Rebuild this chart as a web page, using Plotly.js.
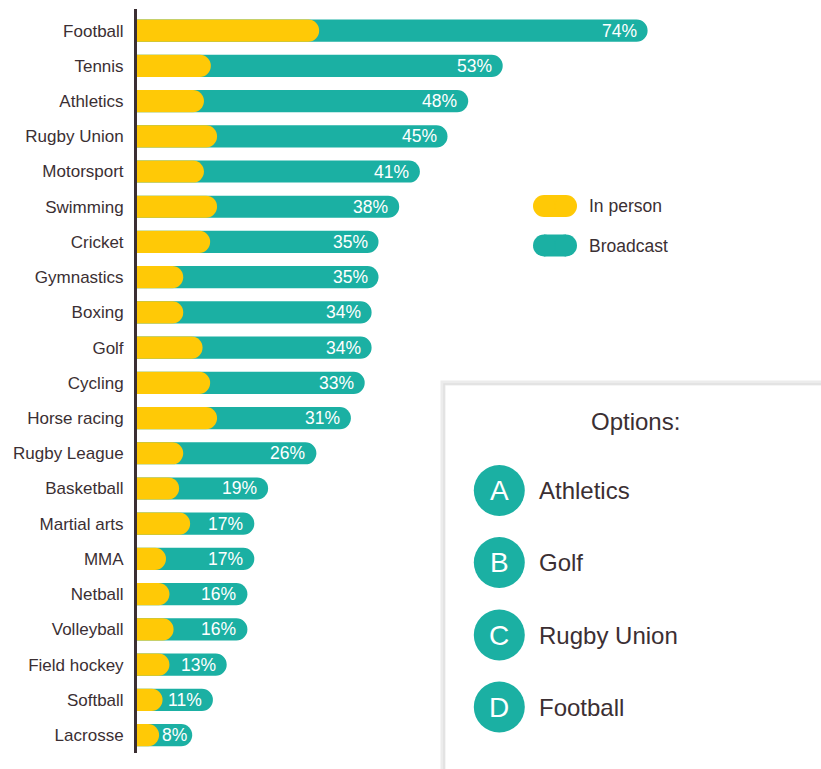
<!DOCTYPE html>
<html>
<head>
<meta charset="utf-8">
<script src="https://cdn.plot.ly/plotly-3.0.1.min.js"></script>
<style>html,body{margin:0;padding:0;background:#fff;}#chart{width:821px;height:769px;}</style>
</head>
<body>
<div id="chart"></div>
<script>
const categories = ["Football","Tennis","Athletics","Rugby Union","Motorsport","Swimming","Cricket","Gymnastics","Boxing","Golf","Cycling","Horse racing","Rugby League","Basketball","Martial arts","MMA","Netball","Volleyball","Field hockey","Softball","Lacrosse"];
const broadcastTotal = [74,53,48,45,41,38,35,35,34,34,33,31,26,19,17,17,16,16,13,11,8];
const inPerson = [26.4,10.7,9.7,11.6,9.7,11.6,10.6,6.7,6.7,9.5,10.6,11.6,6.7,6.1,7.7,4.2,4.7,5.3,4.7,3.7,3.2];
const valueLabels = ["74%","53%","48%","45%","41%","38%","35%","35%","34%","34%","33%","31%","26%","19%","17%","17%","16%","16%","13%","11%","8%"];
const legendNames = ["In person","Broadcast"];
const optionLetters = ["A","B","C","D"];
const optionNames = ["Athletics","Golf","Rugby Union","Football"];
const optionsTitle = "Options:";

const YELLOW = "#FFC906", TEAL = "#1BB0A3", DARK = "#3b2f33";
const FONT = "'Liberation Sans',Arial,sans-serif";

const W = 821, H = 769, ML = 137, MR = 0, MT = 9, MB = 16;
const PW = W - ML - MR, PH = H - MT - MB;
const px = x => (x - ML) / PW;
const py = y => 1 - (y - MT) / PH;

const traces = [
  {type:"bar", orientation:"h", y:categories, x:broadcastTotal, name:legendNames[1],
   marker:{color:TEAL, cornerradius:"50%"}, width:0.63, hoverinfo:"x+y", showlegend:false},
  {type:"bar", orientation:"h", y:categories, x:inPerson, name:legendNames[0], yaxis:"y2",
   marker:{color:YELLOW, cornerradius:"50%"}, width:0.63, hoverinfo:"x+y", showlegend:false}
];

const annotations = [];
categories.forEach((c,i)=>{
  annotations.push({x:broadcastTotal[i], y:c, xref:"x", yref:"y", text:valueLabels[i],
    showarrow:false, xanchor:"right", yanchor:"middle", xshift:(broadcastTotal[i] < 10 ? -3 : -9),
    font:{family:FONT, size:17.5, color:"#ffffff"}});
});

const shapes = [];
// Legend pills
const legendRows = [206, 245.5];
const legendColors = [YELLOW, TEAL];
legendRows.forEach((cy,i)=>{
  const r = 11;
  shapes.push({type:"rect", xref:"paper", yref:"paper", x0:px(533+r), x1:px(577-r), y0:py(cy+r), y1:py(cy-r), fillcolor:legendColors[i], line:{width:0}});
  shapes.push({type:"circle", xref:"paper", yref:"paper", x0:px(533), x1:px(533+2*r), y0:py(cy+r), y1:py(cy-r), fillcolor:legendColors[i], line:{width:0}});
  shapes.push({type:"circle", xref:"paper", yref:"paper", x0:px(577-2*r), x1:px(577), y0:py(cy+r), y1:py(cy-r), fillcolor:legendColors[i], line:{width:0}});
  annotations.push({xref:"paper", yref:"paper", x:px(587), y:py(cy), text:legendNames[i], showarrow:false,
    xanchor:"left", yanchor:"middle", font:{family:FONT, size:17.5, color:DARK}});
});

// Options box
shapes.push({type:"rect", xref:"paper", yref:"paper", x0:px(443), x1:px(840), y0:py(790), y1:py(383), fillcolor:"#ffffff", line:{color:"#ececec", width:5}, layer:"below"});
shapes.push({type:"rect", xref:"paper", yref:"paper", x0:px(444), x1:px(840), y0:py(790), y1:py(384), fillcolor:"rgba(0,0,0,0)", line:{color:"#e0e0e0", width:1.5}, layer:"below"});
annotations.push({xref:"paper", yref:"paper", x:px(635), y:py(422), text:optionsTitle, showarrow:false,
  xanchor:"center", yanchor:"middle", font:{family:FONT, size:24, color:DARK}});
const optRows = [490.5, 562.5, 635, 707];
optRows.forEach((cy,i)=>{
  const r = 25.5, cx = 499.3;
  shapes.push({type:"circle", xref:"paper", yref:"paper", x0:px(cx-r), x1:px(cx+r), y0:py(cy+r), y1:py(cy-r), fillcolor:TEAL, line:{width:0}});
  annotations.push({xref:"paper", yref:"paper", x:px(cx), y:py(cy), text:optionLetters[i], showarrow:false,
    xanchor:"center", yanchor:"middle", font:{family:FONT, size:28, color:"#ffffff"}});
  annotations.push({xref:"paper", yref:"paper", x:px(537), y:py(cy), text:optionNames[i], showarrow:false,
    xanchor:"left", yanchor:"middle", font:{family:FONT, size:24, color:DARK}});
});

const yRange = [20.51, -0.614];
const layout = {
  width:W, height:H,
  margin:{l:ML, r:MR, t:MT, b:MB, pad:0},
  paper_bgcolor:"#ffffff", plot_bgcolor:"#ffffff",
  barmode:"overlay",
  showlegend:false,
  xaxis:{range:[0, PW/6.9], visible:false, showgrid:false, zeroline:false, fixedrange:true},
  yaxis:{type:"category", categoryorder:"array", categoryarray:categories,
    range:yRange, showgrid:false, zeroline:false,
    showline:true, linecolor:DARK, linewidth:3,
    ticks:"", ticklabelstandoff:7,
    tickfont:{family:FONT, size:17, color:DARK}, fixedrange:true},
  yaxis2:{type:"category", categoryorder:"array", categoryarray:categories,
    range:yRange, overlaying:"y", visible:false, showgrid:false, zeroline:false, fixedrange:true},
  shapes:shapes,
  annotations:annotations,
  font:{family:FONT}
};

Plotly.newPlot("chart", traces, layout, {displayModeBar:false, staticPlot:true});
</script>
</body>
</html>
